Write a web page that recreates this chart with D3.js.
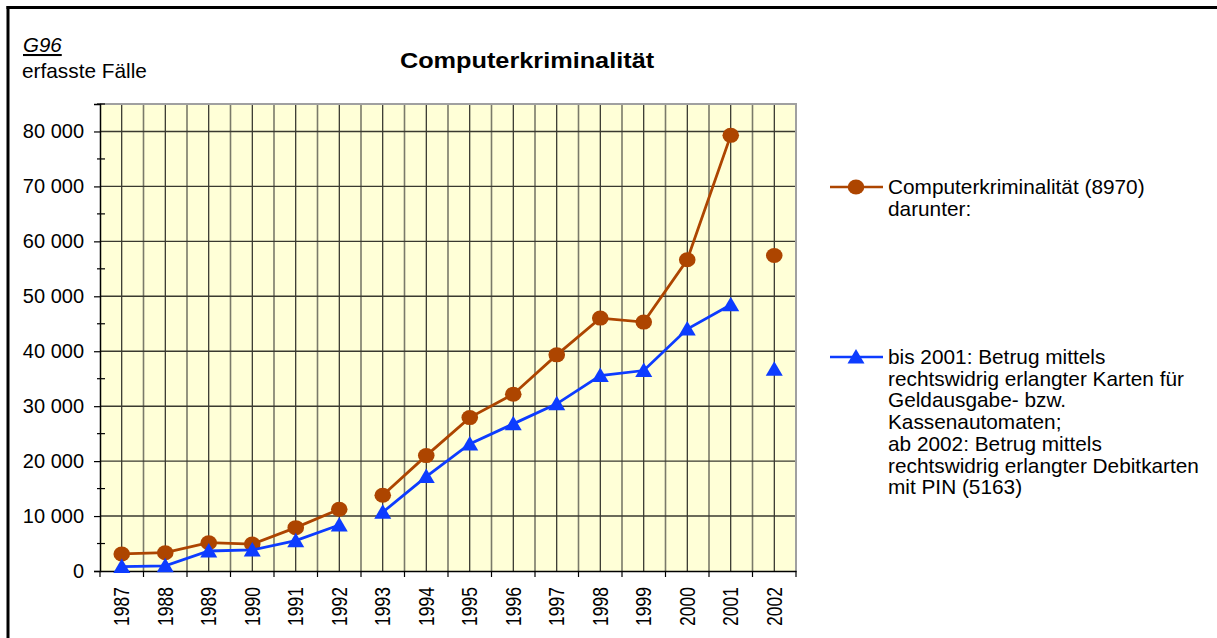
<!DOCTYPE html>
<html>
<head>
<meta charset="utf-8">
<script src="https://cdn.jsdelivr.net/npm/d3@7"></script>
<style>
  html, body { margin: 0; padding: 0; background: #fff; overflow: hidden; }
  svg { display: block; }
  text { font-family: "Liberation Sans", Arial, sans-serif; fill: #000; }
</style>
</head>
<body>
<svg id="chart" width="1217" height="638"></svg>
<script>
var years = ['1987', '1988', '1989', '1990', '1991', '1992', '1993', '1994',
             '1995', '1996', '1997', '1998', '1999', '2000', '2001', '2002'];
var computerkriminalitaet = [3100, 3330, 5150, 4900, 7890, 11240, 13800, 21000,
                             27920, 32180, 39340, 46030, 45300, 56650, 79290, 57430];
var kartenbetrug = [800, 950, 3640, 3830, 5520, 8380, 10700, 17180,
                    23130, 26780, 30420, 35580, 36490, 44030, 48450, 36740];
// the lines start again at these years
var lineBreaks = ['1993', '2002'];
var yTicks = [0, 10000, 20000, 30000, 40000, 50000, 60000, 70000, 80000];
var yMinorTicks = [5000, 15000, 25000, 35000, 45000, 55000, 65000, 75000, 85000];
var legendA = ['Computerkriminalität (8970)', 'darunter:'];
var legendB = ['bis 2001: Betrug mittels', 'rechtswidrig erlangter Karten für',
               'Geldausgabe- bzw.', 'Kassenautomaten;', 'ab 2002: Betrug mittels',
               'rechtswidrig erlangter Debitkarten', 'mit PIN (5163)'];

var brown = '#ad4500',
    blue = '#0d3cff';

var plot = {left: 100, right: 796, top: 104, bottom: 571};

var svg = d3.select('#chart');

var xScale = d3.scaleBand()
    .domain(years)
    .range([plot.left, plot.right]);

var yScale = d3.scaleLinear()
    .domain([0, 85000])
    .range([plot.bottom, plot.top]);

var fmt = function (v) { return d3.format(',')(v).replace(/,/g, ' '); };

// outer frame (only left and top edge are visible)
svg.append('line')
    .attr('x1', 8).attr('y1', 6)
    .attr('x2', 8).attr('y2', 638)
    .attr('stroke', '#000')
    .attr('stroke-width', 3);

svg.append('line')
    .attr('x1', 6.5).attr('y1', 7.5)
    .attr('x2', 1217).attr('y2', 7.5)
    .attr('stroke', '#000')
    .attr('stroke-width', 3);

// plot background
svg.append('rect')
    .attr('x', plot.left)
    .attr('y', plot.top)
    .attr('width', plot.right - plot.left)
    .attr('height', plot.bottom - plot.top)
    .attr('fill', '#ffffd7');

// vertical grid: band borders grey, band centres black
var grid = svg.append('g').classed('grid', true);

grid.selectAll('line.vb')
    .data(years.slice(1))
    .enter()
    .append('line')
    .attr('x1', function (d) { return xScale(d); })
    .attr('x2', function (d) { return xScale(d); })
    .attr('y1', plot.top)
    .attr('y2', plot.bottom)
    .attr('stroke', '#7a7a6a')
    .attr('stroke-width', 1.6);

grid.selectAll('line.vc')
    .data(years)
    .enter()
    .append('line')
    .attr('x1', function (d) { return xScale(d) + xScale.bandwidth() / 2; })
    .attr('x2', function (d) { return xScale(d) + xScale.bandwidth() / 2; })
    .attr('y1', plot.top)
    .attr('y2', plot.bottom)
    .attr('stroke', '#000')
    .attr('stroke-width', 1);

grid.selectAll('line.h')
    .data(yTicks.slice(1))
    .enter()
    .append('line')
    .attr('x1', plot.left)
    .attr('x2', plot.right)
    .attr('y1', function (d) { return yScale(d); })
    .attr('y2', function (d) { return yScale(d); })
    .attr('stroke', '#3a3a30')
    .attr('stroke-width', 1.4);

// top and right border of the plot
svg.append('path')
    .attr('d', 'M' + plot.left + ',' + plot.top + ' L' + plot.right + ',' + plot.top + ' L' + plot.right + ',' + plot.bottom)
    .attr('fill', 'none')
    .attr('stroke', '#a0a0a0')
    .attr('stroke-width', 2);

// y axis
var yAxis = d3.axisLeft(yScale)
    .tickValues(yTicks)
    .tickSize(6)
    .tickPadding(10)
    .tickFormat(fmt);

var yg = svg.append('g')
    .attr('transform', 'translate(' + plot.left + ',0)')
    .call(yAxis);

yg.select('.domain').attr('stroke', '#000').attr('stroke-width', 1.5);
yg.selectAll('.tick line').attr('stroke', '#000').attr('stroke-width', 1.2);
yg.selectAll('.tick text')
    .attr('font-size', 20)
    .style('font-family', '"Liberation Sans", Arial, sans-serif');

yg.selectAll('line.minor')
    .data(yMinorTicks)
    .enter()
    .append('line')
    .attr('x1', -3)
    .attr('x2', 5)
    .attr('y1', function (d) { return yScale(d); })
    .attr('y2', function (d) { return yScale(d); })
    .attr('stroke', '#000')
    .attr('stroke-width', 1.2);

// x axis
var xAxis = d3.axisBottom(xScale)
    .tickSize(0)
    .tickFormat('');

var xg = svg.append('g')
    .attr('transform', 'translate(0,' + plot.bottom + ')')
    .call(xAxis);

xg.select('.domain').attr('stroke', '#000').attr('stroke-width', 1.5);

xg.selectAll('line.xt')
    .data(years.concat(['end']))
    .enter()
    .append('line')
    .attr('x1', function (d, i) { return plot.left + i * xScale.step(); })
    .attr('x2', function (d, i) { return plot.left + i * xScale.step(); })
    .attr('y1', 0)
    .attr('y2', 6)
    .attr('stroke', '#000')
    .attr('stroke-width', 1.2);

xg.selectAll('text.year')
    .data(years)
    .enter()
    .append('text')
    .attr('transform', function (d) {
        return 'translate(' + (xScale(d) + xScale.bandwidth() / 2 + 7.5) + ',16) scale(1.3,1) rotate(-90)';
    })
    .attr('text-anchor', 'end')
    .attr('font-size', 17.5)
    .text(function (d) { return d; });

// series
function pointsOf(values) {
    var seg = 0;
    return years.map(function (y, i) {
        if (lineBreaks.indexOf(y) >= 0) seg++;
        return {year: y, value: values[i], seg: seg};
    });
}

var line = d3.line()
    .x(function (d) { return xScale(d.year) + xScale.bandwidth() / 2; })
    .y(function (d) { return yScale(d.value); });

var triangle = 'M0,-8 L8.5,6.5 L-8.5,6.5 Z';

function drawSeries(values, color, marker) {
    var pts = pointsOf(values);
    var groups = d3.groups(pts, function (d) { return d.seg; });
    var g = svg.append('g');

    g.selectAll('path.line')
        .data(groups)
        .enter()
        .append('path')
        .attr('d', function (d) { return line(d[1]); })
        .attr('fill', 'none')
        .attr('stroke', color)
        .attr('stroke-width', 2.8);

    var m = g.selectAll('.marker')
        .data(pts)
        .enter();

    if (marker === 'circle') {
        m.append('ellipse')
            .attr('cx', function (d) { return xScale(d.year) + xScale.bandwidth() / 2; })
            .attr('cy', function (d) { return yScale(d.value); })
            .attr('rx', 8.3)
            .attr('ry', 7.5)
            .attr('fill', color);
    } else {
        m.append('path')
            .attr('d', triangle)
            .attr('transform', function (d) {
                return 'translate(' + (xScale(d.year) + xScale.bandwidth() / 2) + ',' + yScale(d.value) + ')';
            })
            .attr('fill', color);
    }
}

drawSeries(computerkriminalitaet, brown, 'circle');
drawSeries(kartenbetrug, blue, 'triangle');

// titles
svg.append('text')
    .attr('transform', 'translate(527,68) scale(1.15,1)')
    .attr('text-anchor', 'middle')
    .attr('font-size', 22)
    .attr('font-weight', 'bold')
    .text('Computerkriminalität');

svg.append('text')
    .attr('x', 23)
    .attr('y', 52)
    .attr('font-size', 20.5)
    .attr('font-style', 'italic')
    .attr('text-decoration', 'underline')
    .text('G96');

svg.append('text')
    .attr('x', 22)
    .attr('y', 78)
    .attr('font-size', 20.8)
    .text('erfasste Fälle');

// legend
function legendItem(y, color, marker, lines) {
    var g = svg.append('g');
    g.append('line')
        .attr('x1', 830)
        .attr('x2', 883)
        .attr('y1', y)
        .attr('y2', y)
        .attr('stroke', color)
        .attr('stroke-width', 2.5);
    if (marker === 'circle') {
        g.append('ellipse')
            .attr('cx', 856)
            .attr('cy', y)
            .attr('rx', 8.3)
            .attr('ry', 7.5)
            .attr('fill', color);
    } else {
        g.append('path')
            .attr('d', triangle)
            .attr('transform', 'translate(856,' + y + ')')
            .attr('fill', color);
    }
    g.selectAll('text')
        .data(lines)
        .enter()
        .append('text')
        .attr('x', 888)
        .attr('y', function (d, i) { return y + 7 + i * 21.7; })
        .attr('font-size', 20.8)
        .text(function (d) { return d; });
}

legendItem(187, brown, 'circle', legendA);
legendItem(357, blue, 'triangle', legendB);
</script>
</body>
</html>
